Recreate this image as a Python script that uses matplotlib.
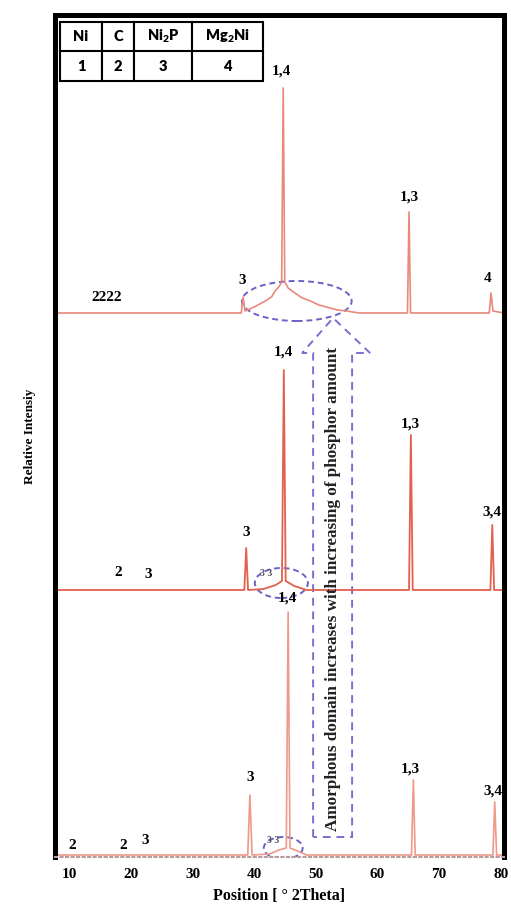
import numpy as np
import matplotlib
matplotlib.use('Agg')
import matplotlib.pyplot as plt
from matplotlib.patches import Ellipse, Polygon

plt.rcParams['font.family'] = 'Liberation Serif'
plt.rcParams['font.weight'] = 'bold'
plt.rcParams['mathtext.default'] = 'regular'

# XRD patterns (position in deg 2theta, intensity in arbitrary offset units)
bottom_x = [7.7, 38.95, 39.3, 39.65, 42.5, 44.0, 45.2, 45.5, 45.8, 47.0, 48.5,
            65.5, 65.8, 66.1, 78.7, 79.0, 79.3, 80.5]
bottom_y = [2, 2, 62, 2, 3, 7, 9, 245, 9, 6, 2,
            2, 77, 2, 2, 55, 2, 2]

middle_x = [7.7, 38.4, 38.7, 39.0, 41.5, 43.5, 44.5, 44.8, 45.1, 46.5, 48.5,
            65.1, 65.4, 65.7, 78.3, 78.6, 78.9, 80.5]
middle_y = [267, 267, 309, 267, 268, 272, 276, 487, 276, 271, 267,
            267, 422, 267, 267, 332, 267, 267]

top_x = [7.7, 37.9, 38.2, 38.5, 40.0, 41.8, 42.8, 43.4, 44.1, 44.45, 44.7,
         44.95, 45.5, 46.6, 47.8, 49.1, 50.5, 52.3, 53.5, 55.0, 57.0,
         64.85, 65.1, 65.35, 78.1, 78.4, 78.7, 80.5]
top_y = [544, 544, 560, 546, 550, 556, 560, 566, 571, 575, 769,
         575, 569, 564, 559, 556, 552, 549, 547, 546, 544,
         544, 645, 544, 544, 564, 546, 544]

# peak labels: (x, y, text)
labels_top = [(16.0, 553, '2222'), (38.0, 570, '3'), (44.4, 779, '1,4'),
              (65.1, 653, '1,3'), (77.9, 572, '4')]
labels_mid = [(17.9, 278, '2'), (22.8, 276, '3'), (38.7, 318, '3'),
              (44.7, 498, '1,4'), (65.3, 426, '1,3'), (78.5, 338, '3,4')]
labels_bot = [(10.5, 5, '2'), (18.8, 5, '2'), (22.3, 10, '3'), (39.3, 73, '3'),
              (45.3, 252, '1,4'), (65.3, 81, '1,3'), (78.7, 59, '3,4')]
small_labels = [(42.0, 279, '3 3'), (43.0, 12, '3 3')]

# table of phases
phases = ['Ni', 'C', 'Ni$_{2}$P', 'Mg$_{2}$Ni']
phase_ids = ['1', '2', '3', '4']

# dashed annotations: ellipses (cx, cy, w, h)
ellipses = [(46.9, 556, 17.8, 40), (44.4, 274, 8.6, 30), (44.7, 9, 6.3, 22)]
arrow_x = [49.55, 49.55, 47.76, 52.79, 58.78, 55.87, 55.87]
arrow_y = [20, 504, 504, 539, 504, 504, 20]

fig = plt.figure(figsize=(5.11, 9.07), dpi=100)
ax = fig.add_axes([55/511, 50/907, 449/511, 842/907])

ax.plot(bottom_x, bottom_y, color='#f0988a', lw=1.2)
ax.plot(middle_x, middle_y, color='#e2604e', lw=1.3)
ax.plot(top_x, top_y, color='#e8897c', lw=1.2)

for lx, ly, t in labels_top + labels_mid + labels_bot:
    ax.text(lx, ly, t, ha='center', va='bottom', fontsize=11, color='black')
for lx, ly, t in small_labels:
    ax.text(lx, ly, t, ha='center', va='bottom', fontsize=7, color='#555555')

purple = '#6c62c4'
for cx, cy, w, h in ellipses:
    ax.add_patch(Ellipse((cx, cy), w, h, fill=False, ls=(0, (3, 2)),
                         ec=purple, lw=1.4))
ax.add_patch(Polygon(np.column_stack([arrow_x, arrow_y]), closed=True,
                     fill=False, ls=(0, (4, 3)), ec='#7a6fd0', lw=1.4))
ax.text(52.75, 268, 'Amorphous domain increases with increasing of phosphor amount',
        rotation=90, ha='center', va='center', fontsize=12.3, color='#222222')

ax.set_xlim(7.7, 80.5)
ax.set_ylim(0, 842)
ax.set_xticks([10, 20, 30, 40, 50, 60, 70, 80])
ax.set_yticks([])
ax.tick_params(axis='x', length=0, pad=8, labelsize=11)
ax.set_xlabel('Position [ ° 2Theta]', fontsize=11.5, fontweight='bold', labelpad=5)
ax.set_ylabel('Relative Intensiy', fontsize=9.5, fontweight='bold', labelpad=14)

for side in ['left', 'right', 'top']:
    ax.spines[side].set_linewidth(3.6)
    ax.spines[side].set_color('black')
ax.spines['bottom'].set_linestyle(':')
ax.spines['bottom'].set_color('#b89c9c')
ax.spines['bottom'].set_linewidth(1.5)

colw = np.array([42, 32, 58, 71], dtype=float)
tab = ax.table(cellText=[phase_ids], colLabels=phases, cellLoc='center',
               colWidths=list(colw / colw.sum()),
               bbox=[5/449, (857-81)/842, 203/449, 59/842])
tab.auto_set_font_size(False)
for (r, c), cell in tab.get_celld().items():
    cell.set_linewidth(1.5)
    cell.set_edgecolor('black')
    cell.get_text().set_fontsize(10.5)
    cell.get_text().set_fontfamily('Lato')
    cell.get_text().set_fontweight('heavy')

fig.savefig('out.png', dpi=100)
